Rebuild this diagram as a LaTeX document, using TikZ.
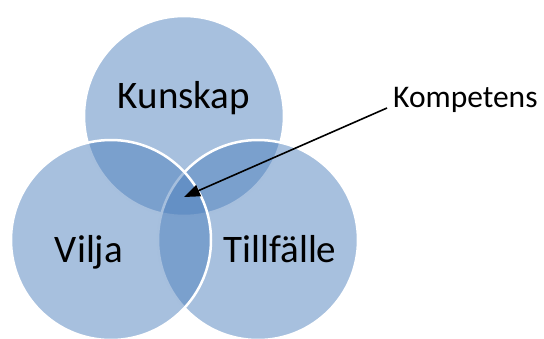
\documentclass[tikz,border=0pt]{standalone}
\usepackage{fontspec}
\setmainfont{Carlito}
\usetikzlibrary{arrows.meta}
\definecolor{vennblue}{HTML}{4F81BD}
\tikzset{
  venn/.style={fill=vennblue, fill opacity=0.5, draw=white, line width=2.5pt},
  biglabel/.style={inner sep=0pt, anchor=base, font=\fontsize{39}{45}\selectfont},
  smalllabel/.style={inner sep=0pt, anchor=base west, font=\fontsize{31.5}{36}\selectfont},
  pointer/.style={draw=black, line width=1.6pt, -{Triangle[length=16pt,width=12pt]}}
}
\begin{document}
\begin{tikzpicture}[x=1pt,y=-1pt]
\useasboundingbox (0,0) rectangle (544,338);
\begin{scope}
\clip (0,0) rectangle (544,338);
\path[venn] (184,116) circle (100);
\path[venn] (258,240) circle (100);
\path[venn] (111,240) circle (100);
\end{scope}
\node[biglabel] (kunskap) at (184,108) {Kunskap};
\node[biglabel] (vilja) at (89,262) {Vilja};
\node[biglabel] (tillfalle) at (280,262) {Tillfälle};
\node[smalllabel] (kompetens) at (393,107) {Kompetens};
\coordinate (arrowstart) at (387,108);
\coordinate (core) at (184,197);
\draw[pointer] (arrowstart) -- (core);
\end{tikzpicture}
\end{document}
